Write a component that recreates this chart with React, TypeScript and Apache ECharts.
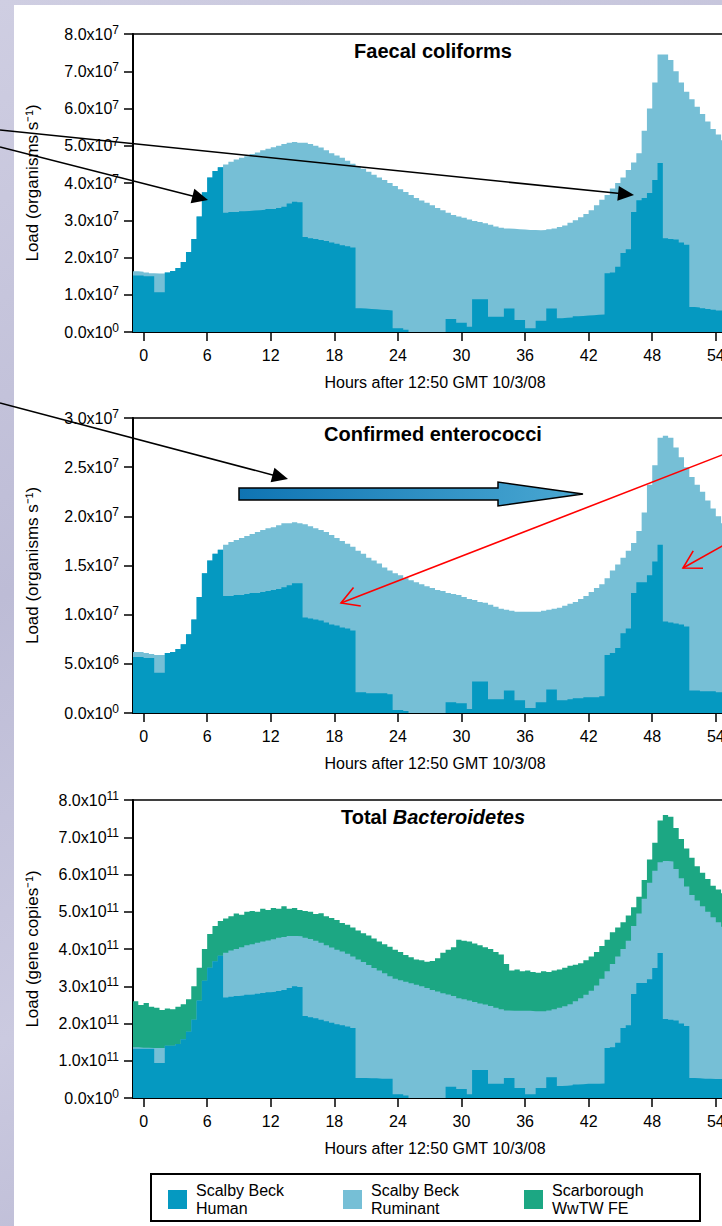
import React, { useEffect, useRef } from 'react';
import * as echarts from 'echarts';

const FONT = '"Liberation Sans", Arial, Helvetica, sans-serif';

// sampling grid: hours after 12:50 GMT 10/3/08, every half hour from -1 to 56
const HOURS: number[] = Array.from({ length: 115 }, (_, i) => -1 + i * 0.5);
const X_TICKS = [0, 6, 12, 18, 24, 30, 36, 42, 48, 54];

// Faecal coliforms (units of 1e7 organisms/s): top of ruminant layer and human layer
const FC_HUMAN_PLUS_RUMINANT = [1.63, 1.62,
  1.6, 1.58, 1.57, 1.57, 1.6, 1.64, 1.72, 1.88, 2.15, 2.5, 3.1, 3.75,
  4.15, 4.32, 4.42, 4.5, 4.57, 4.63, 4.68, 4.72, 4.78, 4.82, 4.88, 4.92,
  4.96, 5.0, 5.05, 5.08, 5.1, 5.08, 5.08, 5.05, 5.0, 4.95, 4.88, 4.8,
  4.74, 4.68, 4.6, 4.52, 4.45, 4.38, 4.3, 4.22, 4.15, 4.08, 4.0, 3.92,
  3.83, 3.76, 3.68, 3.6, 3.53, 3.47, 3.4, 3.33, 3.27, 3.2, 3.14, 3.1,
  3.07, 3.02, 2.98, 2.95, 2.92, 2.88, 2.83, 2.8, 2.78, 2.77, 2.76, 2.75,
  2.74, 2.74, 2.73, 2.74, 2.76, 2.78, 2.82, 2.86, 2.93, 3.0, 3.08, 3.17,
  3.27, 3.4, 3.55, 3.68, 3.85, 4.0, 4.15, 4.35, 4.55, 4.8, 5.4, 6.0,
  6.7, 7.45, 7.45, 7.3, 7.0, 6.7, 6.45, 6.25, 6.05, 5.85, 5.65, 5.45,
  5.3, 5.15, 5.05, 4.95, 4.85];
const FC_HUMAN = [1.52, 1.52,
  1.5, 1.5, 1.07, 1.07, 1.6, 1.64, 1.72, 1.88, 2.15, 2.5, 3.1, 3.75,
  4.15, 4.32, 4.42, 3.2, 3.22, 3.22, 3.24, 3.25, 3.26, 3.27, 3.28, 3.3,
  3.3, 3.33, 3.36, 3.45, 3.5, 3.48, 2.55, 2.52, 2.5, 2.47, 2.44, 2.4,
  2.37, 2.33, 2.3, 2.27, 0.64, 0.63, 0.62, 0.61, 0.6, 0.59, 0.58, 0.1,
  0.1, 0.06, 0, 0, 0, 0, 0, 0, 0, 0.35, 0.35, 0.25,
  0.25, 0.14, 0.88, 0.88, 0.88, 0.41, 0.41, 0.41, 0.63, 0.63, 0.32, 0.32,
  0.1, 0.1, 0.3, 0.3, 0.63, 0.63, 0.37, 0.38, 0.39, 0.42, 0.43, 0.44,
  0.45, 0.46, 0.47, 1.58, 1.6, 1.75, 2.12, 2.22, 3.22, 3.54, 3.6, 3.73,
  4.08, 4.54, 2.52, 2.5, 2.48, 2.4, 2.34, 0.67, 0.66, 0.64, 0.62, 0.6,
  0.58, 0.57, 0.56, 0.55, 0.54];

// Confirmed enterococci (units of 1e7 organisms/s)
const ENT_HUMAN_PLUS_RUMINANT = [0.62, 0.62,
  0.61, 0.6, 0.59, 0.59, 0.61, 0.62, 0.65, 0.7, 0.8, 0.95, 1.18, 1.42,
  1.55, 1.62, 1.66, 1.71, 1.74, 1.76, 1.78, 1.8, 1.82, 1.84, 1.86, 1.88,
  1.89, 1.91, 1.93, 1.93, 1.94, 1.93, 1.92, 1.9, 1.88, 1.86, 1.84, 1.81,
  1.78, 1.75, 1.72, 1.69, 1.65, 1.62, 1.58, 1.55, 1.52, 1.48, 1.45, 1.42,
  1.4, 1.37, 1.35, 1.33, 1.31, 1.29, 1.27, 1.25, 1.24, 1.22, 1.21, 1.2,
  1.18, 1.16, 1.15, 1.13, 1.12, 1.1, 1.08, 1.06, 1.05, 1.04, 1.03, 1.03,
  1.03, 1.03, 1.03, 1.04, 1.05, 1.06, 1.07, 1.09, 1.11, 1.13, 1.16, 1.19,
  1.23, 1.27, 1.31, 1.37, 1.45, 1.51, 1.58, 1.65, 1.73, 1.85, 2.04, 2.32,
  2.52, 2.8, 2.82, 2.8, 2.7, 2.6, 2.5, 2.4, 2.32, 2.25, 2.16, 2.08,
  2.0, 1.93, 1.87, 1.82, 1.77];
const ENT_HUMAN = [0.57, 0.57,
  0.56, 0.56, 0.41, 0.41, 0.61, 0.62, 0.65, 0.7, 0.8, 0.95, 1.18, 1.42,
  1.55, 1.62, 1.66, 1.19, 1.19, 1.2, 1.2, 1.21, 1.22, 1.22, 1.23, 1.24,
  1.25, 1.26, 1.28, 1.3, 1.32, 1.32, 0.97, 0.96, 0.95, 0.94, 0.92, 0.9,
  0.89, 0.87, 0.86, 0.84, 0.21, 0.21, 0.2, 0.2, 0.2, 0.2, 0.19, 0.03,
  0.03, 0.02, 0, 0, 0, 0, 0, 0, 0, 0.11, 0.11, 0.1,
  0.1, 0.04, 0.32, 0.32, 0.32, 0.14, 0.14, 0.14, 0.23, 0.23, 0.13, 0.13,
  0.05, 0.05, 0.11, 0.11, 0.24, 0.24, 0.13, 0.13, 0.14, 0.15, 0.15, 0.16,
  0.16, 0.16, 0.17, 0.59, 0.61, 0.66, 0.81, 0.86, 1.22, 1.33, 1.33, 1.4,
  1.54, 1.71, 0.93, 0.92, 0.91, 0.9, 0.88, 0.23, 0.23, 0.22, 0.22, 0.22,
  0.21, 0.21, 0.21, 0.2, 0.2];

// Total Bacteroidetes (units of 1e11 gene copies/s)
const BAC_TOTAL_WITH_WWTW = [2.6, 2.5,
  2.55, 2.45, 2.42, 2.36, 2.4, 2.38, 2.45, 2.52, 2.65, 3.0, 3.5, 4.0,
  4.4, 4.62, 4.75, 4.82, 4.88, 4.95, 4.92, 5.0, 5.02, 5.0, 5.08, 5.05,
  5.1, 5.08, 5.15, 5.08, 5.1, 5.05, 5.02, 5.0, 4.94, 4.96, 4.88, 4.83,
  4.78, 4.7, 4.65, 4.58, 4.5, 4.42, 4.36, 4.28, 4.2, 4.13, 4.06, 3.98,
  3.92, 3.84, 3.78, 3.72, 3.7, 3.66, 3.68, 3.75, 3.9, 3.98, 4.05, 4.25,
  4.22, 4.2, 4.15, 4.1, 4.05, 4.0, 3.92, 3.85, 3.6, 3.42, 3.45, 3.4,
  3.42, 3.38, 3.36, 3.4, 3.38, 3.42, 3.45, 3.5, 3.55, 3.58, 3.62, 3.7,
  3.8, 3.92, 4.08, 4.25, 4.45, 4.58, 4.72, 4.9, 5.12, 5.4, 5.85, 6.4,
  6.85, 7.45, 7.6, 7.55, 7.25, 6.95, 6.7, 6.45, 6.22, 6.05, 5.88, 5.7,
  5.6, 5.5, 5.4, 5.3, 5.2];
const BAC_HUMAN_PLUS_RUMINANT = [1.36, 1.35,
  1.35, 1.34, 1.34, 1.34, 1.4, 1.4, 1.45, 1.58, 1.78, 2.1, 2.62, 3.15,
  3.5, 3.67, 3.82, 3.9, 3.96, 4.0, 4.05, 4.1, 4.13, 4.17, 4.2, 4.23,
  4.26, 4.3, 4.32, 4.35, 4.35, 4.34, 4.3, 4.27, 4.22, 4.17, 4.1, 4.04,
  3.98, 3.93, 3.87, 3.8, 3.72, 3.65, 3.57, 3.49, 3.42, 3.35, 3.27, 3.2,
  3.16, 3.12, 3.08, 3.04, 3.0, 2.95, 2.9, 2.86, 2.81, 2.78, 2.74, 2.68,
  2.65, 2.62, 2.58, 2.54, 2.51, 2.47, 2.42, 2.38, 2.35, 2.34, 2.34, 2.34,
  2.34, 2.33, 2.33, 2.33, 2.35, 2.38, 2.42, 2.46, 2.52, 2.6, 2.68, 2.77,
  2.88, 3.02, 3.2, 3.4, 3.6, 3.8, 4.0, 4.22, 4.62, 4.95, 5.35, 5.78,
  6.1, 6.33, 6.36, 6.35, 6.15, 5.9, 5.68, 5.45, 5.3, 5.15, 5.0, 4.85,
  4.72, 4.6, 4.5, 4.42, 4.35];
const BAC_HUMAN = [1.32, 1.32,
  1.32, 1.32, 0.94, 0.94, 1.4, 1.4, 1.45, 1.58, 1.78, 2.1, 2.62, 3.15,
  3.5, 3.67, 3.82, 2.7, 2.72, 2.74, 2.75, 2.77, 2.78, 2.8, 2.82, 2.84,
  2.85, 2.87, 2.9, 2.95, 3.0, 2.98, 2.2, 2.17, 2.14, 2.1, 2.06, 2.02,
  1.98, 1.95, 1.92, 1.88, 0.54, 0.54, 0.53, 0.53, 0.52, 0.52, 0.52, 0.1,
  0.1, 0.07, 0, 0, 0, 0, 0, 0, 0, 0.3, 0.3, 0.24,
  0.24, 0.1, 0.75, 0.75, 0.75, 0.38, 0.38, 0.38, 0.54, 0.54, 0.27, 0.27,
  0.1, 0.1, 0.27, 0.27, 0.56, 0.56, 0.32, 0.33, 0.34, 0.36, 0.37, 0.38,
  0.38, 0.38, 0.39, 1.34, 1.36, 1.48, 1.88, 1.95, 2.79, 3.09, 3.09, 3.19,
  3.49, 3.89, 2.12, 2.1, 2.08, 2.0, 1.93, 0.54, 0.53, 0.52, 0.52, 0.51,
  0.51, 0.5, 0.5, 0.5, 0.49];

// tick labels: [mantissa, exponent]
const FC_Y_LABELS = [['0.0', '0'], ['1.0', '7'], ['2.0', '7'], ['3.0', '7'], ['4.0', '7'], ['5.0', '7'], ['6.0', '7'], ['7.0', '7'], ['8.0', '7']];
const ENT_Y_LABELS = [['0.0', '0'], ['5.0', '6'], ['1.0', '7'], ['1.5', '7'], ['2.0', '7'], ['2.5', '7'], ['3.0', '7']];
const BAC_Y_LABELS = [['0.0', '0'], ['1.0', '11'], ['2.0', '11'], ['3.0', '11'], ['4.0', '11'], ['5.0', '11'], ['6.0', '11'], ['7.0', '11'], ['8.0', '11']];

const TITLES = ['Faecal coliforms', 'Confirmed enterococci'];
const X_NAME = 'Hours after 12:50 GMT 10/3/08';
const Y_NAMES = ['Load (organisms s\u207B\u00B9)', 'Load (organisms s\u207B\u00B9)', 'Load (gene copies\u207B\u00B9)'];
const LEGEND_ITEMS = ['Scalby Beck\nHuman', 'Scalby Beck\nRuminant', 'Scarborough\nWwTW FE'];

const C_HUMAN = '#0599c1';
const C_RUM = '#76bfd6';
const C_WWTW = '#1ca783';

const GRIDS = [
  { top: 34, height: 298 },
  { top: 418, height: 295 },
  { top: 800, height: 298 },
];
const PLOT_LEFT = 133;
const PLOT_W = 604;

function pair(vals: number[]) {
  return vals.map((v, i) => [HOURS[i], v]);
}

function yLabelFormatter(labels: string[][], step: number) {
  return (v: number) => {
    const l = labels[Math.round(v / step)];
    if (!l) return '';
    return `{b|${l[0]}x10}{s|${l[1]}}`;
  };
}

function areaSeries(idx: number, data: number[], color: string, z: number) {
  return {
    type: 'line',
    xAxisIndex: idx,
    yAxisIndex: idx,
    data: pair(data),
    step: 'end',
    symbol: 'none',
    showSymbol: false,
    silent: true,
    lineStyle: { width: 0, color },
    areaStyle: { color, opacity: 1 },
    z,
  };
}

function blackArrow(x1: number, y1: number, x2: number, y2: number) {
  const dx = x2 - x1, dy = y2 - y1, L = Math.hypot(dx, dy);
  const ux = dx / L, uy = dy / L;
  const len = 16, half = 7.5;
  const bx = x2 - ux * len, by = y2 - uy * len;
  return [
    { type: 'line', z: 100, shape: { x1, y1, x2: bx + ux * 2, y2: by + uy * 2 }, style: { stroke: '#000', lineWidth: 1.6 } },
    { type: 'polygon', z: 100, shape: { points: [[x2, y2], [bx - uy * half, by + ux * half], [bx + uy * half, by - ux * half]] }, style: { fill: '#000' } },
  ];
}

function redArrow(x1: number, y1: number, x2: number, y2: number) {
  const dx = x1 - x2, dy = y1 - y2, L = Math.hypot(dx, dy);
  const ux = dx / L, uy = dy / L;
  const a = Math.PI / 6, len = 20;
  const r = (ang: number) => [x2 + len * (ux * Math.cos(ang) - uy * Math.sin(ang)), y2 + len * (ux * Math.sin(ang) + uy * Math.cos(ang))];
  return [
    { type: 'line', z: 100, shape: { x1, y1, x2, y2 }, style: { stroke: '#ff0000', lineWidth: 1.6 } },
    { type: 'polyline', z: 100, shape: { points: [r(a), [x2, y2], r(-a)] }, style: { stroke: '#ff0000', lineWidth: 1.6, fill: null } },
  ];
}

function buildOption() {
  const yLabelsSets = [FC_Y_LABELS, ENT_Y_LABELS, BAC_Y_LABELS];
  const yMax = [8, 3, 8];
  const yStep = [1, 0.5, 1];

  const grid = GRIDS.map((g) => ({
    left: PLOT_LEFT, top: g.top, width: PLOT_W, height: g.height,
    show: true, borderColor: '#000', borderWidth: 1.5, backgroundColor: 'transparent',
    containLabel: false,
  }));

  const xAxis = GRIDS.map((_, i) => ({
    type: 'value', gridIndex: i, min: -1, max: 56,
    axisLine: { show: true, onZero: false, lineStyle: { color: '#000', width: 2 } },
    axisTick: { show: true, customValues: X_TICKS, length: 9, lineStyle: { color: '#000', width: 1.5 } },
    axisLabel: { customValues: X_TICKS, margin: 15, fontSize: 16, color: '#000', fontFamily: FONT },
    splitLine: { show: false },
    name: X_NAME, nameLocation: 'middle', nameGap: 42,
    nameTextStyle: { fontSize: 16, color: '#000', fontFamily: FONT },
  }));

  const yAxis = GRIDS.map((_, i) => ({
    type: 'value', gridIndex: i, min: 0, max: yMax[i], interval: yStep[i],
    axisLine: { show: true, onZero: false, lineStyle: { color: '#000', width: 2 } },
    axisTick: { show: true, length: 9, lineStyle: { color: '#000', width: 1.5 } },
    axisLabel: {
      margin: 14, color: '#000', fontFamily: FONT,
      formatter: yLabelFormatter(yLabelsSets[i], yStep[i]),
      rich: {
        b: { fontSize: 16, fontFamily: FONT, color: '#000', lineHeight: 20 },
        s: { fontSize: 12, fontFamily: FONT, color: '#000', lineHeight: 12, verticalAlign: 'top' },
      },
    },
    splitLine: { show: false },
    name: Y_NAMES[i], nameLocation: 'middle', nameGap: 92,
    nameTextStyle: { fontSize: 17, color: '#000', fontFamily: FONT },
  }));

  const series = [
    areaSeries(0, FC_HUMAN_PLUS_RUMINANT, C_RUM, 2),
    areaSeries(0, FC_HUMAN, C_HUMAN, 3),
    areaSeries(1, ENT_HUMAN_PLUS_RUMINANT, C_RUM, 2),
    areaSeries(1, ENT_HUMAN, C_HUMAN, 3),
    areaSeries(2, BAC_TOTAL_WITH_WWTW, C_WWTW, 2),
    areaSeries(2, BAC_HUMAN_PLUS_RUMINANT, C_RUM, 3),
    areaSeries(2, BAC_HUMAN, C_HUMAN, 4),
  ];

  const cx = PLOT_LEFT + PLOT_W / 2 - 2;
  const titleFont = `bold 20px ${FONT}`;
  const graphics: any[] = [
    { type: 'text', x: cx, y: 51, z: 100, style: { text: TITLES[0], font: titleFont, fill: '#000', align: 'center', verticalAlign: 'middle', textAlign: 'center', textVerticalAlign: 'middle' } },
    { type: 'text', x: cx, y: 434, z: 100, style: { text: TITLES[1], font: titleFont, fill: '#000', align: 'center', verticalAlign: 'middle', textAlign: 'center', textVerticalAlign: 'middle' } },
    {
      type: 'text', x: cx, y: 817, z: 100,
      style: {
        text: '{n|Total }{i|Bacteroidetes}', fill: '#000', align: 'center', verticalAlign: 'middle', textAlign: 'center', textVerticalAlign: 'middle',
        rich: {
          n: { fontSize: 20, fontWeight: 'bold', fontFamily: FONT, fill: '#000' },
          i: { fontSize: 20, fontWeight: 'bold', fontStyle: 'italic', fontFamily: FONT, fill: '#000' },
        },
      },
    },
    ...blackArrow(0, 147, 208, 200),
    ...blackArrow(0, 130, 634, 195),
    ...blackArrow(0, 403, 288, 479),
    {
      type: 'polygon', z: 100,
      shape: { points: [[239, 488], [498, 488], [498, 482], [583, 494], [498, 506], [498, 500], [239, 500]] },
      style: {
        fill: new echarts.graphic.LinearGradient(0, 0, 1, 0, [
          { offset: 0, color: '#0f74b3' },
          { offset: 1, color: '#4aa8d2' },
        ]),
        stroke: '#000', lineWidth: 1.5,
      },
    },
    ...redArrow(740, 448, 341, 603),
    ...redArrow(740, 536, 683, 568),
    // legend
    { type: 'rect', z: 100, shape: { x: 151, y: 1174, width: 549, height: 47 }, style: { fill: '#fff', stroke: '#000', lineWidth: 2 } },
  ];
  const legendColors = [C_HUMAN, C_RUM, C_WWTW];
  const legendX = [168, 343, 524];
  legendColors.forEach((c, i) => {
    graphics.push({ type: 'rect', z: 101, shape: { x: legendX[i], y: 1190, width: 19, height: 19 }, style: { fill: c } });
    graphics.push({
      type: 'text', z: 101, x: legendX[i] + 28, y: 1199,
      style: { text: LEGEND_ITEMS[i], font: `16px ${FONT}`, lineHeight: 18, fill: '#000', align: 'left', verticalAlign: 'middle', textAlign: 'left', textVerticalAlign: 'middle' },
    });
  });

  return {
    animation: false,
    backgroundColor: 'transparent',
    grid, xAxis, yAxis, series,
    graphic: { elements: graphics },
  };
}

export default function App() {
  const ref = useRef<HTMLDivElement>(null);
  useEffect(() => {
    document.body.style.margin = '0';
    const chart = echarts.init(ref.current as HTMLDivElement, null, { renderer: 'svg' });
    chart.setOption(buildOption() as any);
    return () => chart.dispose();
  }, []);
  return (
    <div style={{ position: 'fixed', left: 0, top: 0, width: 722, height: 1226, overflow: 'hidden', background: 'linear-gradient(160deg, #cfcee2 0%, #bdbcd6 40%, #cbcae0 70%, #b4b3cf 100%)' }}>
      <div style={{ position: 'absolute', left: 14, top: 5, width: 760, height: 1226, background: '#ffffff' }} />
      <div ref={ref} style={{ position: 'absolute', left: 0, top: 0, width: 760, height: 1226 }} />
    </div>
  );
}
